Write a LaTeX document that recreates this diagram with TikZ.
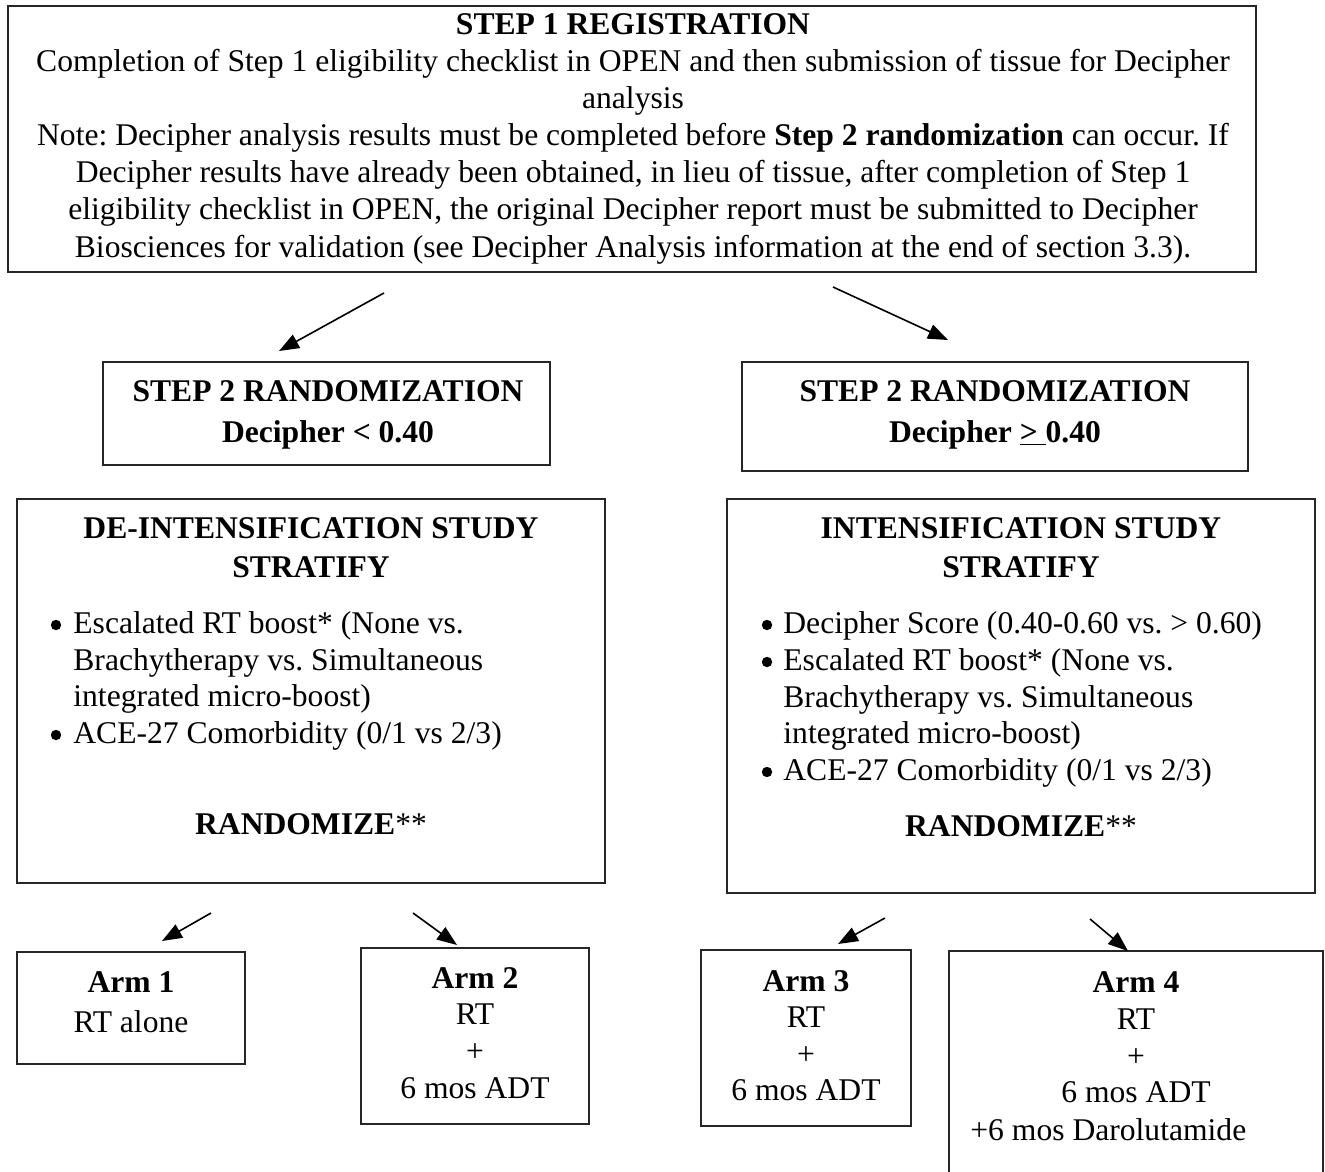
\documentclass[tikz,border=0pt]{standalone}
\usepackage{fontspec}
\setmainfont{Liberation Serif}
\usetikzlibrary{arrows.meta}
\frenchspacing
\begin{document}
\begin{tikzpicture}[x=0.5pt,y=-0.5pt,
  box/.style={draw=black!85, line width=0.9pt, inner sep=0pt, outer sep=0pt, anchor=north west},
  txt/.style={anchor=base, inner sep=0pt, font=\fontsize{15.8}{18.5}\selectfont},
  ltxt/.style={txt, anchor=base west},
  bul/.style={circle, fill=black, inner sep=0pt, minimum size=5.2pt},
  arr/.style={-{Triangle[length=10pt,width=7.5pt]}, line width=0.8pt, black}]
\useasboundingbox (0,0) rectangle (1325,1171);

% ---------- boxes ----------
\node[box, minimum width=624pt, minimum height=133pt] (top) at (8,6) {};
\node[box, minimum width=223.5pt, minimum height=51.5pt] (s2l) at (103,362) {};
\node[box, minimum width=253pt, minimum height=54.5pt] (s2r) at (742,362) {};
\node[box, minimum width=294pt, minimum height=192pt] (deint) at (17,499) {};
\node[box, minimum width=294pt, minimum height=197pt] (int) at (727,499) {};
\node[box, minimum width=114pt, minimum height=56pt] (arm1) at (17,952) {};
\node[box, minimum width=114pt, minimum height=88pt] (arm2) at (361,948) {};
\node[box, minimum width=105pt, minimum height=88pt] (arm3) at (701,950) {};
\node[box, minimum width=187pt, minimum height=117pt] (arm4) at (949,951) {};

% ---------- top box text ----------
\node[txt] (t1) at (633,35) {\textbf{STEP 1 REGISTRATION}};
\node[txt] (t2) at (633,72) {Completion of Step 1 eligibility checklist in OPEN and then submission of tissue for Decipher};
\node[txt] (t3) at (633,109) {analysis};
\node[txt] (t4) at (633,146) {Note: Decipher analysis results must be completed before \textbf{Step 2 randomization} can occur. If};
\node[txt] (t5) at (633,183) {Decipher results have already been obtained, in lieu of tissue, after completion of Step 1};
\node[txt] (t6) at (633,220) {eligibility checklist in OPEN, the original Decipher report must be submitted to Decipher};
\node[txt] (t7) at (633,257) {Biosciences for validation (see Decipher Analysis information at the end of section 3.3).};

% ---------- step 2 boxes ----------
\node[txt] (l1) at (328,401) {\textbf{STEP 2 RANDOMIZATION}};
\node[txt] (l2) at (328,442) {\textbf{Decipher < 0.40}};
\node[txt] (r1) at (995,401) {\textbf{STEP 2 RANDOMIZATION}};
\node[txt] (r2) at (995,442) {\textbf{Decipher \underline{>\ }0.40}};

% ---------- de-intensification ----------
\node[txt] (d1) at (311,538) {\textbf{DE-INTENSIFICATION STUDY}};
\node[txt] (d2) at (311,577) {\textbf{STRATIFY}};
\node[bul] (db1) at (56,625) {};
\node[ltxt] (d3) at (73,633) {Escalated RT boost* (None vs.};
\node[ltxt] (d4) at (73,670) {Brachytherapy vs. Simultaneous};
\node[ltxt] (d5) at (73,706) {integrated micro-boost)};
\node[bul] (db2) at (56,735) {};
\node[ltxt] (d6) at (73,743) {ACE-27 Comorbidity (0/1 vs 2/3)};
\node[txt] (d7) at (311,834) {\textbf{RANDOMIZE}**};

% ---------- intensification ----------
\node[txt] (i1) at (1021,538) {\textbf{INTENSIFICATION STUDY}};
\node[txt] (i2) at (1021,577) {\textbf{STRATIFY}};
\node[bul] (ib1) at (767,625) {};
\node[ltxt] (i3) at (783,633) {Decipher Score (0.40-0.60 vs. > 0.60)};
\node[bul] (ib2) at (767,662) {};
\node[ltxt] (i4) at (783,670) {Escalated RT boost* (None vs.};
\node[ltxt] (i5) at (783,707) {Brachytherapy vs. Simultaneous};
\node[ltxt] (i6) at (783,743) {integrated micro-boost)};
\node[bul] (ib3) at (767,772) {};
\node[ltxt] (i7) at (783,780) {ACE-27 Comorbidity (0/1 vs 2/3)};
\node[txt] (i8) at (1021,836) {\textbf{RANDOMIZE}**};

% ---------- arms ----------
\node[txt] (a1a) at (131,992) {\textbf{Arm 1}};
\node[txt] (a1b) at (131,1032) {RT alone};

\node[txt] (a2a) at (475,988) {\textbf{Arm 2}};
\node[txt] (a2b) at (475,1024) {RT};
\node[txt] (a2c) at (475,1061) {+};
\node[txt] (a2d) at (475,1098) {6 mos ADT};

\node[txt] (a3a) at (806,991) {\textbf{Arm 3}};
\node[txt] (a3b) at (806,1027) {RT};
\node[txt] (a3c) at (806,1064) {+};
\node[txt] (a3d) at (806,1100) {6 mos ADT};

\node[txt] (a4a) at (1136,992) {\textbf{Arm 4}};
\node[txt] (a4b) at (1136,1029) {RT};
\node[txt] (a4c) at (1136,1066) {+};
\node[txt] (a4d) at (1136,1102) {6 mos ADT};
\node[ltxt] (a4e) at (970,1140) {+6 mos Darolutamide};

% ---------- arrows ----------
\coordinate (p1s) at (384,293);  \coordinate (p1e) at (279,351);
\coordinate (p2s) at (833,287);  \coordinate (p2e) at (948,340);
\coordinate (p3s) at (211,913);  \coordinate (p3e) at (162,941);
\coordinate (p4s) at (413,913);  \coordinate (p4e) at (457,945);
\coordinate (p5s) at (885,918);  \coordinate (p5e) at (838,944);
\coordinate (p6s) at (1090,919); \coordinate (p6e) at (1128,951);
\draw[arr] (p1s) -- (p1e);
\draw[arr] (p2s) -- (p2e);
\draw[arr] (p3s) -- (p3e);
\draw[arr] (p4s) -- (p4e);
\draw[arr] (p5s) -- (p5e);
\draw[arr] (p6s) -- (p6e);
\end{tikzpicture}
\end{document}
